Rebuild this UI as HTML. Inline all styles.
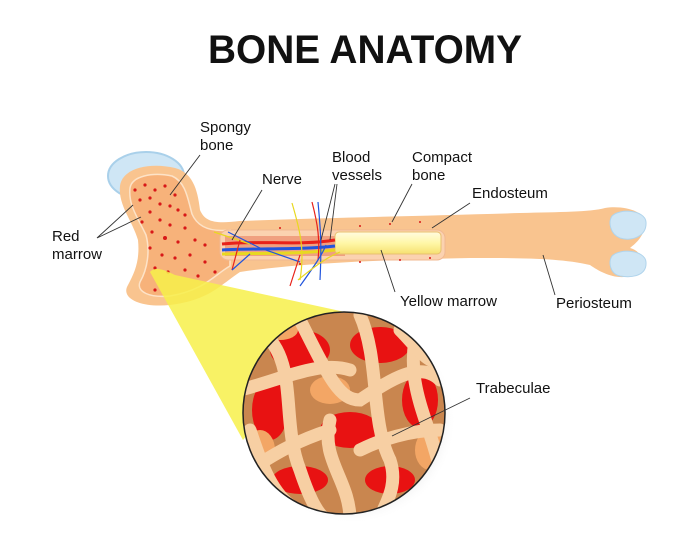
<!DOCTYPE html>
<html><head><meta charset="utf-8"><style>
html,body{margin:0;padding:0;background:#fff;}
svg{display:block;}
text{font-family:"Liberation Sans",sans-serif;fill:#111;}
</style></head><body>
<svg width="700" height="542" viewBox="0 0 700 542" xmlns="http://www.w3.org/2000/svg">
<defs>
<clipPath id="cc"><circle cx="344" cy="413" r="101"/></clipPath>
<radialGradient id="sh" cx="0.5" cy="0.5" r="0.5"><stop offset="0.7" stop-color="#999" stop-opacity="0.5"/><stop offset="1" stop-color="#fff" stop-opacity="0"/></radialGradient>
<linearGradient id="ym" x1="0" y1="0" x2="0" y2="1"><stop offset="0" stop-color="#fffbe0"/><stop offset="0.5" stop-color="#fff7a8"/><stop offset="1" stop-color="#f6e070"/></linearGradient>
</defs>
<text x="365" y="63" font-size="40" font-weight="bold" text-anchor="middle" textLength="314" lengthAdjust="spacingAndGlyphs">BONE ANATOMY</text>

<ellipse cx="146" cy="176" rx="38" ry="24" fill="#cfe6f5" stroke="#a9d0ea" stroke-width="2"/>
<path d="M120,186 C122,168 150,162 175,168 C195,173 198,195 200,210 C205,222 215,224 240,221 C320,218 420,216 520,213 C560,212 590,212 605,208 C625,205 645,212 645,222 C645,238 633,245 630,248 C645,252 647,270 630,276 C615,280 600,272 590,265 C560,258 520,258 470,258 C380,260 300,263 240,272 C220,285 210,300 170,305 C140,308 120,298 128,285 C135,272 140,260 138,240 C132,220 118,205 120,186 Z" fill="#f9c48f"/>
<path d="M130,188 C132,176 152,172 172,176 C186,182 188,200 192,214 C198,228 212,232 230,230 L230,266 C214,275 205,290 170,296 C150,298 136,292 140,282 C148,268 150,250 146,235 C138,218 128,205 130,188 Z" fill="#f7b27a" stroke="#fde3c8" stroke-width="1.5"/>
<path d="M612,216 C620,208 645,210 646,222 C647,236 632,242 620,238 C610,234 608,222 612,216 Z" fill="#cfe6f5" stroke="#b0d4ec"/>
<path d="M612,256 C620,248 645,250 646,262 C647,276 632,278 620,276 C610,274 608,262 612,256 Z" fill="#cfe6f5" stroke="#b0d4ec"/>
<rect x="220" y="230" width="225" height="30" rx="8" fill="#fbd2b0" stroke="#f0b892"/>
<rect x="225" y="236" width="120" height="20" fill="#f0a080"/>
<rect x="335" y="232" width="106" height="22" rx="4" fill="url(#ym)" stroke="#e8c070"/>
<g fill="none" stroke-width="3">
<path d="M222,244 C260,240 300,246 335,240" stroke="#e8221a"/>
<path d="M222,250 C260,248 300,250 335,246" stroke="#2255dd"/>
<path d="M222,254 C260,253 300,254 335,250" stroke="#e8d820"/>
</g>
<g fill="none" stroke-width="1.2">
<path d="M214,232 L250,244" stroke="#e8d820"/><path d="M228,232 L260,248 L300,262" stroke="#2255dd"/>
<path d="M240,240 L232,270" stroke="#e8221a"/><path d="M232,270 L250,254" stroke="#2255dd"/>
<path d="M292,203 C300,230 305,250 300,280" stroke="#e8d820"/>
<path d="M312,202 C318,225 320,240 318,260" stroke="#e8221a"/>
<path d="M318,202 C320,225 322,240 320,280" stroke="#2255dd"/>
<path d="M300,286 C315,265 322,255 326,245" stroke="#2255dd"/>
<path d="M298,280 C320,262 330,256 340,252" stroke="#e8d820"/>
<path d="M290,286 L300,255" stroke="#e8221a"/>
</g>
<g fill="#d81818">
<circle cx="135" cy="190" r="1.6"/><circle cx="145" cy="185" r="1.6"/><circle cx="155" cy="190" r="1.6"/><circle cx="165" cy="186" r="1.6"/><circle cx="175" cy="195" r="1.6"/><circle cx="140" cy="200" r="1.6"/><circle cx="150" cy="198" r="1.6"/><circle cx="160" cy="204" r="1.6"/><circle cx="170" cy="206" r="1.6"/><circle cx="178" cy="210" r="1.6"/><circle cx="150" cy="212" r="1.6"/><circle cx="160" cy="220" r="1.6"/><circle cx="170" cy="225" r="1.6"/><circle cx="185" cy="228" r="1.6"/><circle cx="152" cy="232" r="1.6"/><circle cx="165" cy="238" r="2"/><circle cx="178" cy="242" r="1.6"/><circle cx="195" cy="240" r="1.6"/><circle cx="205" cy="245" r="1.6"/><circle cx="150" cy="248" r="1.6"/><circle cx="162" cy="255" r="1.6"/><circle cx="175" cy="258" r="1.6"/><circle cx="190" cy="255" r="1.6"/><circle cx="205" cy="262" r="1.6"/><circle cx="155" cy="268" r="1.6"/><circle cx="168" cy="272" r="1.6"/><circle cx="185" cy="270" r="1.6"/><circle cx="198" cy="276" r="1.6"/><circle cx="215" cy="272" r="1.6"/><circle cx="155" cy="290" r="1.6"/><circle cx="185" cy="215" r="1.6"/><circle cx="142" cy="222" r="1.6"/>
<circle cx="280" cy="228" r="1"/><circle cx="360" cy="226" r="1"/><circle cx="390" cy="224" r="1"/><circle cx="420" cy="222" r="1"/><circle cx="300" cy="264" r="1"/><circle cx="360" cy="262" r="1"/><circle cx="400" cy="260" r="1"/><circle cx="430" cy="258" r="1"/>
</g>
<path d="M150,272 C155,266 165,270 175,275 L345,312 L243,440 Z" fill="#f7f04a" opacity="0.85"/>
<circle cx="352" cy="420" r="104" fill="url(#sh)"/>
<g clip-path="url(#cc)">
<rect x="240" y="310" width="210" height="210" fill="#c9864f"/>
<g fill="#e81212">
<ellipse cx="300" cy="350" rx="30" ry="20"/><ellipse cx="380" cy="345" rx="30" ry="18"/><ellipse cx="270" cy="410" rx="18" ry="30"/><ellipse cx="350" cy="430" rx="30" ry="18"/><ellipse cx="420" cy="400" rx="18" ry="28"/><ellipse cx="300" cy="480" rx="28" ry="14"/><ellipse cx="390" cy="480" rx="25" ry="14"/>
</g>
<g fill="#f3a665"><ellipse cx="330" cy="390" rx="20" ry="14"/><ellipse cx="260" cy="450" rx="15" ry="20"/><ellipse cx="430" cy="450" rx="15" ry="20"/><ellipse cx="280" cy="330" rx="18" ry="10"/></g>
<g fill="none" stroke="#f7cfa3" stroke-width="13" stroke-linecap="round">
<path d="M260,330 C300,360 280,420 300,470 C310,500 320,520 330,520"/>
<path d="M300,320 C330,380 340,400 360,400 C390,380 420,360 440,380"/>
<path d="M360,315 C380,360 370,420 390,460 C400,490 380,510 380,520"/>
<path d="M240,390 C280,380 320,360 350,370"/>
<path d="M420,320 C400,380 430,420 440,470"/>
<path d="M330,420 C320,460 350,480 350,520"/>
<path d="M250,470 C280,450 300,440 330,430"/>
<path d="M400,330 C420,350 430,370 450,360"/>
<path d="M250,430 C260,460 270,490 290,505"/>
<path d="M360,450 C380,440 410,430 440,430"/>
</g>
</g>
<circle cx="344" cy="413" r="101" fill="none" stroke="#222" stroke-width="1.5"/>

<g font-size="15">
<text x="200" y="132">Spongy</text><text x="200" y="150">bone</text>
<text x="52" y="241">Red</text><text x="52" y="259">marrow</text>
<text x="262" y="184">Nerve</text>
<text x="332" y="162">Blood</text><text x="332" y="180">vessels</text>
<text x="412" y="162">Compact</text><text x="412" y="180">bone</text>
<text x="472" y="198">Endosteum</text>
<text x="400" y="306">Yellow marrow</text>
<text x="556" y="308">Periosteum</text>
<text x="476" y="393">Trabeculae</text>
</g>
<g stroke="#333" stroke-width="0.9" fill="none">
<path d="M200,155 L170,195"/><path d="M97,238 L133,205 M97,238 L141,217"/>
<path d="M262,190 L232,240"/><path d="M335,184 L321,240 M337,184 L330,240"/>
<path d="M412,184 L392,222"/><path d="M470,203 L432,228"/>
<path d="M395,292 L381,250"/><path d="M555,295 L543,255"/><path d="M470,398 L392,436"/>
</g>
</svg>
</body></html>
